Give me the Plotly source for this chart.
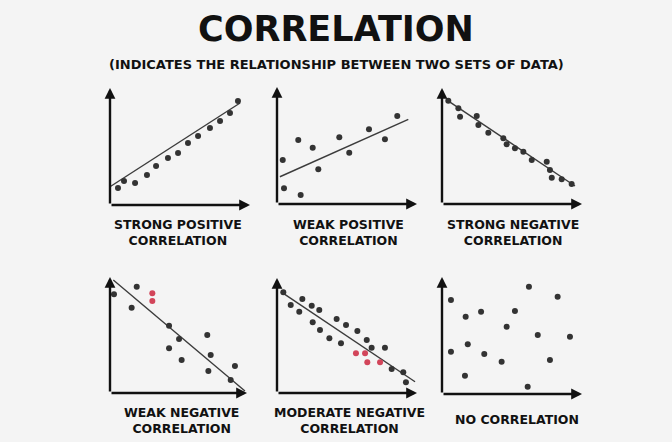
import plotly.graph_objects as go

# ---------------- data (arbitrary 0-10 units per panel) ----------------
titles = ["STRONG POSITIVE<br>CORRELATION", "WEAK POSITIVE<br>CORRELATION",
          "STRONG NEGATIVE<br>CORRELATION", "WEAK NEGATIVE<br>CORRELATION",
          "MODERATE NEGATIVE<br>CORRELATION", "NO CORRELATION"]

p1_x = [0.57, 1.0, 1.79, 2.64, 3.29, 4.14, 4.86, 5.57, 6.29, 7.14, 7.86, 8.57, 9.14]
p1_y = [1.45, 2.05, 1.88, 2.56, 3.33, 4.02, 4.44, 5.30, 5.90, 6.58, 7.18, 7.86, 8.89]
p1_line_x = [0.0, 9.29]
p1_line_y = [1.56, 8.72]

p2_x = [0.41, 1.52, 2.55, 2.95, 0.5, 1.69, 4.45, 5.16, 6.57, 7.71, 8.59]
p2_y = [3.76, 5.47, 4.81, 2.97, 1.34, 0.77, 5.70, 4.38, 6.38, 5.53, 7.52]
p2_line_x = [0.21, 9.38]
p2_line_y = [2.33, 7.24]

p3_x = [0.45, 1.17, 1.29, 2.48, 2.6, 3.31, 4.38, 4.62, 5.21, 5.81, 6.41, 7.48, 7.71, 7.84, 8.55, 9.26]
p3_y = [8.91, 8.25, 7.53, 7.59, 6.81, 6.15, 5.66, 5.15, 4.80, 4.51, 3.79, 3.65, 2.93, 2.27, 2.13, 1.72]
p3_line_x = [0.33, 9.5]
p3_line_y = [8.97, 1.55]

p4_x = [0.29, 1.95, 1.58, 4.31, 5.04, 4.31, 7.10, 5.23, 7.35, 7.18, 9.12, 8.81]
p4_y = [8.51, 9.16, 7.35, 5.80, 4.66, 3.85, 5.0, 2.84, 3.28, 1.90, 2.33, 1.12]
p4_red_x = [3.09, 3.09]
p4_red_y = [8.59, 7.93]
p4_line_x = [0.24, 9.85]
p4_line_y = [9.74, 0.17]

p5_x = [0.45, 1.81, 2.48, 0.98, 1.59, 3.02, 2.55, 3.07, 4.26, 4.93, 3.74, 4.57, 5.74, 6.41, 6.76, 7.71, 8.19, 9.02, 9.21]
p5_y = [8.76, 8.17, 7.59, 7.65, 7.07, 7.22, 6.15, 5.48, 6.43, 5.91, 4.76, 4.32, 5.39, 4.61, 3.94, 3.94, 2.09, 1.80, 0.93]
p5_red_x = [5.64, 6.29, 6.45, 7.36]
p5_red_y = [3.45, 3.45, 2.67, 2.67]
p5_line_x = [0.45, 9.86]
p5_line_y = [8.67, 0.98]

p6_x = [0.64, 1.69, 2.79, 1.84, 0.64, 3.02, 1.64, 4.26, 4.62, 5.21, 6.21, 8.26, 6.84, 9.14, 7.71, 6.12]
p6_y = [8.03, 6.61, 7.03, 4.25, 3.62, 3.42, 1.56, 2.76, 5.75, 7.09, 9.17, 8.32, 5.04, 4.90, 2.91, 0.62]

# ---------------- layout helpers ----------------
W, H = 672, 442
# pixel boxes of each panel's axes: (x0, xr, y_bottom, y_top)
boxes = [(110, 250, 205, 88), (277, 417, 204, 87), (442, 582, 204, 88),
         (110, 247, 393, 277), (277, 417, 393, 278), (442, 582, 394, 277)]
label_pos = [(178, 232), (348, 232), (513, 232), (181, 420), (349, 420), (517, 419)]

DOT = "#333333"
RED = "#d2455a"

fig = go.Figure()
panels = [
    (p1_x, p1_y, None, None, p1_line_x, p1_line_y),
    (p2_x, p2_y, None, None, p2_line_x, p2_line_y),
    (p3_x, p3_y, None, None, p3_line_x, p3_line_y),
    (p4_x, p4_y, p4_red_x, p4_red_y, p4_line_x, p4_line_y),
    (p5_x, p5_y, p5_red_x, p5_red_y, p5_line_x, p5_line_y),
    (p6_x, p6_y, None, None, None, None),
]

layout_axes = {}
annotations = []
for i, (px, py, rx, ry, lx, ly) in enumerate(panels):
    n = i + 1
    xa = "x" if n == 1 else f"x{n}"
    ya = "y" if n == 1 else f"y{n}"
    x0, xr, yb, yt = boxes[i]
    layout_axes[f"xaxis{'' if n == 1 else n}"] = dict(
        domain=[x0 / W, xr / W], range=[0, 10], visible=False, anchor=ya, fixedrange=True)
    layout_axes[f"yaxis{'' if n == 1 else n}"] = dict(
        domain=[1 - yb / H, 1 - yt / H], range=[0, 10], visible=False, anchor=xa, fixedrange=True)
    if lx is not None:
        fig.add_trace(go.Scatter(x=lx, y=ly, mode="lines", xaxis=xa, yaxis=ya,
                                 line=dict(color="#3c3c3c", width=1.4), hoverinfo="skip"))
    fig.add_trace(go.Scatter(x=px, y=py, mode="markers", xaxis=xa, yaxis=ya,
                             marker=dict(color=DOT, size=6)))
    if rx is not None:
        fig.add_trace(go.Scatter(x=rx, y=ry, mode="markers", xaxis=xa, yaxis=ya,
                                 marker=dict(color=RED, size=6)))
    # axis arrows
    for (tx, ty) in [(10, 0), (0, 10)]:
        annotations.append(dict(x=tx, y=ty, ax=0, ay=0, xref=xa, yref=ya, axref=xa, ayref=ya,
                                showarrow=True, arrowhead=2, arrowsize=0.9, arrowwidth=2.4,
                                arrowcolor="#111111", text=""))
    lxp, lyp = label_pos[i]
    annotations.append(dict(x=lxp / W, y=1 - lyp / H, xref="paper", yref="paper",
                            xanchor="center", yanchor="middle",
                            text=titles[i], showarrow=False, align="center",
                            font=dict(family="DejaVu Sans", size=12.5, color="#111111", weight="bold")))

annotations.append(dict(x=0.5, y=1 - 29 / H, xref="paper", yref="paper", text="CORRELATION",
                        xanchor="center", yanchor="middle",
                        showarrow=False, font=dict(family="DejaVu Sans", size=35, color="#111111", weight="bold")))
annotations.append(dict(x=336 / W, y=1 - 64 / H, xref="paper", yref="paper",
                        xanchor="center", yanchor="middle",
                        text="(INDICATES THE RELATIONSHIP BETWEEN TWO SETS OF DATA)",
                        showarrow=False, font=dict(family="DejaVu Sans", size=13, color="#111111", weight="bold")))

fig.update_layout(width=W, height=H, autosize=False, margin=dict(l=0, r=0, t=0, b=0),
                  paper_bgcolor="#f4f4f4", plot_bgcolor="rgba(0,0,0,0)", showlegend=False,
                  annotations=annotations, **layout_axes)
fig.write_html("out.html", config={"displayModeBar": False, "staticPlot": True},
               post_script="document.body.style.margin='0';document.body.style.background='#f4f4f4';")
